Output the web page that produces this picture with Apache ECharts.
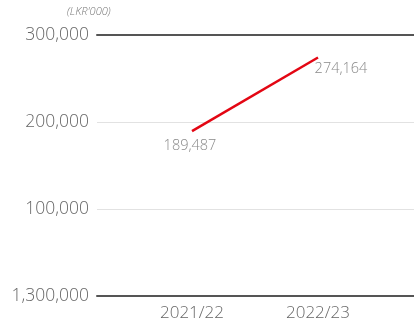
<!DOCTYPE html>
<html><head><meta charset="utf-8">
<script src="https://cdn.jsdelivr.net/npm/echarts@6/dist/echarts.min.js"></script>
<style>html,body{margin:0;padding:0;background:#fff}#c{width:414px;height:324px}</style>
</head><body><div id="c"></div>
<script>
const categories = ['2021/22', '2022/23'];
const values = [189487, 274164];
const valueLabels = ['189,487', '274,164'];
const yTickLabels = ['1,300,000', '100,000', '200,000', '300,000'];
const unitLabel = "(LKR'000)";

const chart = echarts.init(document.getElementById('c'));
const font = '"Open Sans", sans-serif';
const labelOffsets = [[-2, 0], [23, -3]];
chart.setOption({
  animation: false,
  grid: { left: 97, right: 0, top: 35, bottom: 28 },
  graphic: [{ type: 'text', left: 67, top: 6, style: { text: unitLabel, font: 'italic 300 11px ' + font, fill: '#777' } }],
  xAxis: [{
    type: 'value', min: -0.754, max: 1.762,
    axisLine: { show: true, onZero: false, lineStyle: { color: '#555', width: 2 } },
    axisTick: { show: false },
    splitLine: { show: false },
    axisLabel: { customValues: [0, 1], formatter: v => categories[Math.round(v)], color: '#666', fontSize: 17, fontWeight: 300, fontFamily: font, margin: 9 }
  }, {
    type: 'value', position: 'top', min: -0.754, max: 1.762,
    axisLine: { show: true, onZero: false, lineStyle: { color: '#555', width: 2 } },
    axisTick: { show: false }, axisLabel: { show: false }, splitLine: { show: false }
  }],
  yAxis: {
    type: 'value', min: 0, max: 300000, interval: 100000,
    axisLine: { show: false }, axisTick: { show: false },
    splitLine: { lineStyle: { color: '#e2e2e2', width: 1 } },
    axisLabel: { formatter: (v) => yTickLabels[Math.round(v / 100000)], color: '#666', fontSize: 17.5, fontWeight: 300, fontFamily: font, margin: 8 }
  },
  series: [{
    type: 'line',
    symbol: 'none',
    lineStyle: { color: '#e30613', width: 2.5 },
    emphasis: { disabled: true },
    data: values.map((v, i) => [i, v])
  }, {
    type: 'scatter',
    symbolSize: 0,
    itemStyle: { color: 'rgba(0,0,0,0)' },
    data: values.map((v, i) => ({ value: [i, v], label: { offset: labelOffsets[i] } })),
    label: { show: true, position: 'bottom', distance: 7, color: '#6a6a6a', fontSize: 14.5, fontWeight: 300, fontFamily: font,
      formatter: p => valueLabels[p.dataIndex] },
    emphasis: { disabled: true },
    z: 5
  }]
});
</script></body></html>
